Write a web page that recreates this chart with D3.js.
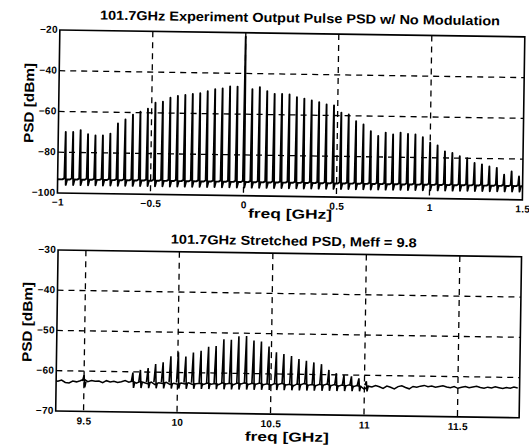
<!DOCTYPE html>
<html>
<head>
<meta charset="utf-8">
<script src="https://cdn.jsdelivr.net/npm/d3@7"></script>
<style>
  body { margin: 0; background: #fff; }
  svg { display: block; font-family: 'Liberation Sans', Arial, sans-serif; }
  .tick text { font-weight: bold; font-size: 10px; letter-spacing: 0.3px; }
</style>
</head>
<body>
<div id="chart"></div>
<script>
// ---- top panel: output pulse PSD, comb lines around the carrier
const topFreqs = [
  -0.96, -0.92, -0.88, -0.84, -0.80, -0.76, -0.72, -0.68, -0.64, -0.60,
  -0.56, -0.52, -0.48, -0.44, -0.40, -0.36, -0.32, -0.28, -0.24, -0.20,
  -0.16, -0.12, -0.08, -0.04, 0.00, 0.04, 0.08, 0.12, 0.16, 0.20,
  0.24, 0.28, 0.32, 0.36, 0.40, 0.44, 0.48, 0.52, 0.56, 0.60,
  0.64, 0.68, 0.72, 0.76, 0.80, 0.84, 0.88, 0.92, 0.96, 1.00,
  1.04, 1.08, 1.12, 1.16, 1.20, 1.24, 1.28, 1.32, 1.36, 1.40,
  1.44, 1.48
]
const topPeaks = [
  -70, -70, -69, -71, -71.5, -71.5, -70.5, -65.5, -63.5, -61,
  -59.5, -58, -55, -54.5, -52.5, -51.5, -51, -50.5, -50, -49,
  -48, -47.5, -46.5, -46.5, -22, -47.7, -46.6, -48.5, -49.8, -49.8,
  -50, -51.3, -51.9, -52.8, -53.6, -54.6, -55, -58.5, -59.4, -62.6,
  -64.2, -67.4, -69.7, -68, -68.9, -67.9, -68.5, -68.7, -70, -72.6,
  -73.9, -76.8, -77.5, -79.1, -80, -82.3, -82.9, -83.9, -84.5, -87.8,
  -86.2, -88.6
]
const topFloor = -93.3
const topDip = -96
const topXTicks = [-1, -0.5, 0, 0.5, 1, 1.5]
const topYTicks = [-100, -80, -60, -40, -20]

// ---- bottom panel: stretched PSD
const botFreqs = [
  9.500, 9.761, 9.801, 9.842, 9.882, 9.922, 9.963, 10.003, 10.043, 10.083,
  10.124, 10.164, 10.204, 10.245, 10.285, 10.325, 10.366, 10.406, 10.446, 10.487,
  10.527, 10.567, 10.608, 10.648, 10.688, 10.728, 10.769, 10.809, 10.849, 10.890,
  10.930, 10.970, 11.010
]
const botPeaks = [
  -61, -60.2, -59.5, -59, -58, -57.5, -56, -55, -56, -55,
  -54.5, -53.5, -53.3, -51.6, -51.7, -50.8, -50.7, -51.8, -52, -53.2,
  -54.6, -55, -55.5, -56.2, -56.6, -57, -57.4, -58.8, -59.6, -60,
  -60.3, -60.8, -61.5
]
const botNoiseStart = 9.34
const botNoiseStep = 0.02
const botNoise = [
  -62.4, -62.6, -62.3, -62.9, -63.0, -62.5, -62.7, -62.4, -62.0, -62.6,
  -62.3, -62.5, -62.4, -62.8, -62.3, -62.6, -62.4, -62.7, -62.5, -62.2,
  -62.6, -62.3, -62.8, -62.4, -62.6, -62.9, -62.5, -63.1, -62.6, -62.8,
  -62.5, -63.0, -62.7, -62.9, -62.6, -62.8, -62.5, -62.9, -62.7, -62.6,
  -62.9, -62.5, -62.8, -62.6, -62.9, -62.4, -62.7, -62.5, -62.8, -62.4,
  -62.6, -62.3, -62.7, -62.4, -62.6, -62.3, -62.7, -62.5, -62.8, -62.4,
  -62.6, -62.3, -62.7, -62.5, -62.9, -62.4, -62.6, -62.2, -62.7, -62.5,
  -62.8, -62.4, -62.6, -62.3, -62.7, -62.4, -62.8, -62.5, -62.7, -62.4,
  -62.9, -62.6, -62.8, -63.5, -62.7, -62.9, -62.5, -62.8, -63.2, -62.6,
  -62.9, -63.3, -62.7, -62.5, -62.9, -63.2, -62.6, -62.8, -62.5, -62.3,
  -62.6, -62.4, -62.7, -62.5, -62.3, -62.6, -62.8, -62.5, -62.9, -62.6,
  -62.4, -62.7, -62.5, -62.3, -62.6, -62.8, -62.5, -62.7, -62.4, -62.6,
  -62.8, -62.5, -62.7, -62.4, -62.6
]
const botDip = -64
const botXTicks = [9.5, 10, 10.5, 11, 11.5]
const botYTicks = [-70, -60, -50, -40, -30]

const width = 529, height = 446

const svg = d3.select('#chart').append('svg')
  .attr('width', width)
  .attr('height', height)
  .attr('viewBox', [0, 0, width, height].join(' '))

// the scanned figure sits slightly askew
const page = svg.append('g').attr('transform', 'rotate(0.85, 264, 223)')

function panel({ box, xDomain, yDomain, xTicks, yTicks, title, titleX, titleY, titleLen, tickPad, xLabelY, draw }) {
  const x = d3.scaleLinear().domain(xDomain).range([box.left, box.right])
  const y = d3.scaleLinear().domain(yDomain).range([box.bottom, box.top])
  const g = page.append('g')

  // dashed grid
  g.append('g')
    .selectAll('line')
    .data(xTicks.filter(t => x(t) > box.left + 2 && x(t) < box.right - 2))
    .join('line')
    .attr('x1', d => x(d)).attr('x2', d => x(d))
    .attr('y1', box.top).attr('y2', box.bottom)
    .attr('stroke', '#000').attr('stroke-width', 1.3)
    .attr('stroke-dasharray', '6,5')
  g.append('g')
    .selectAll('line')
    .data(yTicks.filter(t => y(t) > box.top + 2 && y(t) < box.bottom - 2))
    .join('line')
    .attr('x1', box.left).attr('x2', box.right)
    .attr('y1', d => y(d)).attr('y2', d => y(d))
    .attr('stroke', '#000').attr('stroke-width', 1.3)
    .attr('stroke-dasharray', '6,5')

  const clipId = 'clip' + Math.round(box.top)
  svg.append('clipPath').attr('id', clipId)
    .append('rect')
    .attr('x', box.left).attr('y', box.top)
    .attr('width', box.right - box.left).attr('height', box.bottom - box.top)
  draw(g.append('g').attr('clip-path', `url(#${clipId})`), x, y)

  // frame
  g.append('rect')
    .attr('x', box.left).attr('y', box.top)
    .attr('width', box.right - box.left).attr('height', box.bottom - box.top)
    .attr('fill', 'none').attr('stroke', '#000').attr('stroke-width', 1.6)

  g.append('g')
    .attr('transform', `translate(0,${box.bottom})`)
    .call(d3.axisBottom(x).tickValues(xTicks).tickSize(0).tickPadding(tickPad).tickFormat(d3.format('')))
    .call(a => a.select('.domain').remove())

  g.append('g')
    .attr('transform', `translate(${box.left},0)`)
    .call(d3.axisLeft(y).tickValues(yTicks).tickSize(0).tickPadding(2))
    .call(a => a.select('.domain').remove())
    .call(a => a.selectAll('.tick text').attr('dy', '0.25em'))

  g.append('text')
    .attr('x', titleX).attr('y', titleY)
    .attr('text-anchor', 'middle')
    .attr('font-weight', 'bold').attr('font-size', 13)
    .attr('textLength', titleLen).attr('lengthAdjust', 'spacingAndGlyphs')
    .text(title)

  g.append('text')
    .attr('x', 290).attr('y', xLabelY)
    .attr('text-anchor', 'middle')
    .attr('font-weight', 'bold').attr('font-size', 13)
    .attr('textLength', 84).attr('lengthAdjust', 'spacingAndGlyphs')
    .text('freq [GHz]')

  g.append('text')
    .attr('transform', `translate(${box.left - 25},${(box.top + box.bottom) / 2 - 8}) rotate(-90)`)
    .attr('text-anchor', 'middle')
    .attr('font-weight', 'bold').attr('font-size', 13.5)
    .attr('textLength', 80).attr('lengthAdjust', 'spacingAndGlyphs')
    .text('PSD  [dBm]')
}

// top panel
panel({
  box: { left: 57, right: 522, top: 33, bottom: 196 },
  xDomain: [-1, 1.5],
  yDomain: [-100, -20],
  xTicks: topXTicks,
  yTicks: topYTicks,
  title: '101.7GHz Experiment Output Pulse PSD w/ No Modulation',
  titleX: 297, titleY: 22, titleLen: 400,
  tickPad: 5.5, xLabelY: 218,
  draw: (g, x, y) => {
    const pts = [[-1, topFloor]]
    topFreqs.forEach((f, i) => {
      pts.push([f - 0.014, topFloor], [f - 0.004, topFloor + 0.6], [f, topPeaks[i]],
        [f + 0.004, topDip], [f + 0.011, topFloor])
    })
    pts.push([1.5, topFloor])
    g.append('path')
      .datum(pts)
      .attr('fill', 'none').attr('stroke', '#000').attr('stroke-width', 1.9)
      .attr('stroke-linejoin', 'round')
      .attr('d', d3.line().x(d => x(d[0])).y(d => y(d[1])))
  }
})

// bottom panel
panel({
  box: { left: 58.5, right: 522, top: 253, bottom: 414 },
  xDomain: [9.351, 11.83],
  yDomain: [-70, -30],
  xTicks: botXTicks,
  yTicks: botYTicks,
  title: '101.7GHz Stretched PSD, Meff = 9.8',
  titleX: 294, titleY: 245, titleLen: 246,
  tickPad: 6, xLabelY: 441,
  draw: (g, x, y) => {
    g.append('path')
      .datum(botNoise)
      .attr('fill', 'none').attr('stroke', '#000').attr('stroke-width', 1.5)
      .attr('d', d3.line().x((d, i) => x(botNoiseStart + i * botNoiseStep)).y(d => y(d)))
    g.selectAll('path.spike')
      .data(botFreqs.map((f, i) => ({ f, p: botPeaks[i] })))
      .join('path')
      .attr('class', 'spike')
      .attr('fill', 'none').attr('stroke', '#000').attr('stroke-width', 1.6)
      .attr('d', d => d3.line()([[x(d.f) - 1.5, y(-62.5)], [x(d.f), y(d.p)], [x(d.f) + 0.8, y(botDip)], [x(d.f) + 2, y(-62.6)]]))
  }
})
</script>
</body>
</html>
